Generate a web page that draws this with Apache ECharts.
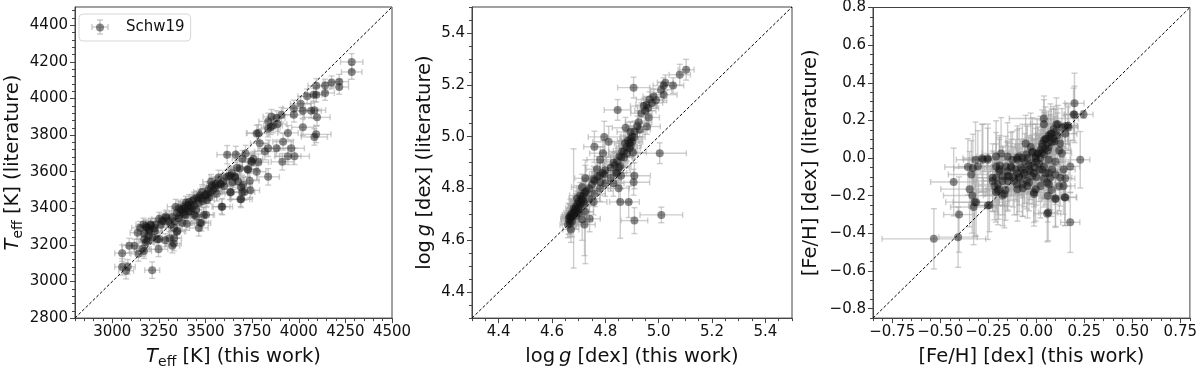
<!DOCTYPE html>
<html>
<head>
<meta charset="utf-8">
<title>Schw19 comparison</title>
<script src="https://cdn.jsdelivr.net/npm/echarts@6/dist/echarts.min.js"></script>
<style>
  html, body { margin: 0; padding: 0; background: #fff; }
  #chart { width: 1200px; height: 374px; }
</style>
</head>
<body>
<div id="chart"></div>
<script>
// axis ranges and ticks
const teffRange = [2800, 4500];
const loggRange = [4.3, 5.5];
const fehRange = [-0.85, 0.8];
const teffTicksX = [3000, 3250, 3500, 3750, 4000, 4250, 4500];
const teffTicksY = [2800, 3000, 3200, 3400, 3600, 3800, 4000, 4200, 4400];
const loggTicks = [4.4, 4.6, 4.8, 5.0, 5.2, 5.4];
const fehTicksX = [-0.75, -0.5, -0.25, 0, 0.25, 0.5, 0.75];
const fehTicksY = [-0.8, -0.6, -0.4, -0.2, 0, 0.2, 0.4, 0.6, 0.8];

// [this work, literature, err this work, err literature]
const teffPts = [
  [4284,4200,60,45],[4284,4145,55,40],[4217,4092,50,40],[4217,4063,50,40],[4176,4088,45,35],[4141,4071,45,35],
  [4141,4030,50,40],[4094,4069,45,40],[4094,4021,50,40],[4080,4021,45,35],[4045,4012,50,40],[4084,3936,60,45],
  [4098,3897,70,45],[4066,3933,55,40],[4022,3933,50,40],[4010,3971,55,40],[3974,3946,60,45],[3974,3911,55,40],
  [4022,3843,60,45],[4093,3804,80,45],[4084,3790,70,45],[3942,3812,55,40],[3907,3911,50,40],[3916,3764,55,45],
  [3960,3728,70,45],[3977,3684,80,45],[3942,3684,70,45],[3912,3654,60,45],[3886,3861,50,40],[3881,3893,45,40],
  [3854,3900,45,40],[3836,3875,50,45],[3850,3843,50,40],[3836,3835,55,45],[3862,3852,50,40],[3783,3812,60,45],
  [3774,3809,55,45],[3791,3755,50,40],[3818,3710,55,45],[3836,3728,55,45],[3881,3728,60,45],[3757,3671,50,40],
  [3783,3652,55,45],[3836,3572,60,45],[3748,3652,50,40],[3698,3671,55,45],[3684,3618,50,40],[3726,3613,45,40],
  [3774,3600,50,45],[3641,3591,50,40],[3616,3693,55,50],[3624,3577,45,40],[3659,3568,50,40],[3691,3515,50,40],
  [3709,3489,55,45],[3691,3449,60,45],[3633,3489,50,40],[3583,3533,45,40],[3590,3409,55,45],[3503,3471,45,40],
  [3517,3506,45,40],[3552,3533,45,40],[3570,3568,50,40],[3535,3524,45,40],[3482,3489,45,40],[3464,3453,45,40],
  [3438,3449,45,40],[3411,3435,45,40],[3384,3409,45,40],[3358,3400,40,40],[3340,3409,45,40],[3393,3364,40,35],
  [3420,3382,45,40],[3450,3355,45,40],[3491,3364,50,40],[3478,3320,50,45],[3464,3293,50,45],[3376,3320,45,40],
  [3349,3276,45,40],[3335,3329,40,35],[3313,3311,40,35],[3287,3355,40,35],[3252,3343,40,35],[3273,3329,40,35],
  [3207,3307,40,35],[3184,3297,40,35],[3198,3276,40,35],[3172,3261,40,35],[3149,3293,45,35],[3136,3267,40,35],
  [3172,3231,40,35],[3181,3214,40,35],[3163,3178,45,40],[3119,3196,40,35],[3091,3196,40,40],[3140,3151,40,40],
  [3053,3155,40,45],[3053,3080,40,45],[3083,3080,40,40],[3074,3059,40,45],[3214,3062,40,45],[3248,3176,50,40],
  [3240,3231,40,35],[3284,3226,40,35],[3322,3196,40,40],[3331,3237,40,35],[3229,3276,40,35],[3170,3166,40,40],
  [3188,3223,40,35],[3200,3285,40,35],[3191,3294,40,35],[3179,3303,40,35],[3206,3311,40,35],[3167,3311,40,35],
  [3232,3311,40,35],[3250,3232,40,35],[3308,3237,40,35],[3330,3208,40,40],[3347,3272,40,35],[3267,3333,40,35],
  [3290,3347,40,35],[3321,3351,40,35],[3347,3374,40,35],[3368,3391,40,35],[3391,3400,40,35],[3404,3418,40,35],
  [3409,3383,40,35],[3386,3368,40,35],[3427,3400,40,35],[3450,3391,40,35],[3439,3365,40,35],[3462,3427,40,35],
  [3480,3454,40,35],[3498,3471,40,35],[3507,3445,40,35],[3528,3489,40,35],[3551,3511,40,35],[3560,3525,40,35],
  [3577,3534,45,40],[3595,3546,45,40],[3613,3569,45,40],[3634,3578,45,40],[3657,3574,45,40],[3645,3542,45,40],
  [3675,3546,45,40],[3701,3528,50,40],[3737,3551,50,40],[3740,3498,50,40],[3698,3489,50,40],[3687,3450,50,40],
  [3634,3486,45,40],[3586,3409,45,40],[3503,3365,45,40],[3471,3320,45,40],[3400,3315,40,35],[3330,3294,40,35],
  [3662,3694,50,45],[3715,3699,50,45],[3746,3658,50,45],[3728,3610,50,40],[3669,3622,50,40],[3420,3420,40,35],
  [3430,3440,40,35],[3455,3460,40,35],[3470,3470,40,35],[3515,3480,40,35],[3540,3500,45,35],[3395,3430,40,35],
  [3375,3395,40,35],[3360,3360,40,35],[3300,3330,40,35],[3260,3310,40,35],[3225,3290,40,35],[3530,3545,45,40],
  [3600,3520,45,40],[3560,3480,45,40],[3410,3405,40,35],[3440,3415,40,35],[3485,3440,40,35],[3520,3460,40,35],
  [3380,3380,40,35],[3355,3345,40,35],[3195,3250,40,35],[3215,3240,40,35]
];

const loggPts = [
  [5.103,5.258,0.03,0.04],[5.079,5.239,0.04,0.04],[5.054,5.197,0.04,0.03],[5.025,5.208,0.03,0.03],
  [5.019,5.197,0.04,0.03],[5.019,5.162,0.05,0.03],[5.009,5.181,0.04,0.03],[4.981,5.155,0.04,0.03],
  [4.966,5.143,0.05,0.03],[4.954,5.122,0.04,0.03],[4.944,5.118,0.05,0.03],[4.975,5.13,0.04,0.03],
  [4.99,5.14,0.04,0.03],[4.906,5.189,0.06,0.04],[4.846,5.103,0.05,0.04],[4.963,5.074,0.04,0.03],
  [4.956,5.039,0.05,0.03],[4.925,5.055,0.05,0.04],[4.929,5.027,0.04,0.03],[4.894,5.018,0.05,0.04],
  [4.9,4.98,0.04,0.03],[4.891,4.955,0.04,0.03],[4.904,4.939,0.05,0.04],[4.909,4.999,0.04,0.03],
  [4.876,5.034,0.05,0.04],[4.874,4.974,0.04,0.03],[4.863,4.943,0.05,0.04],[4.881,4.936,0.04,0.03],
  [4.853,4.924,0.05,0.04],[4.856,4.886,0.04,0.04],[4.844,4.861,0.05,0.05],[4.859,4.849,0.04,0.05],
  [4.831,4.899,0.05,0.04],[4.8125,4.98,0.06,0.06],[4.796,4.999,0.06,0.06],[4.791,4.936,0.05,0.05],
  [4.759,4.961,0.04,0.06],[4.781,4.911,0.05,0.05],[4.769,4.874,0.04,0.05],[4.796,4.855,0.04,0.05],
  [4.781,4.824,0.04,0.05],[4.756,4.836,0.04,0.05],[4.725,4.839,0.04,0.05],[4.713,4.805,0.04,0.05],
  [4.725,4.786,0.03,0.05],[4.706,4.773,0.04,0.05],[4.694,4.761,0.03,0.05],[4.681,4.723,0.03,0.23],
  [4.669,4.698,0.03,0.06],[4.6625,4.683,0.03,0.06],[4.675,4.673,0.03,0.06],[4.66,4.66,0.03,0.05],
  [4.671,4.642,0.03,0.05],[4.713,4.68,0.04,0.08],[4.741,4.683,0.04,0.05],[4.722,4.661,0.04,0.12],
  [4.725,4.71,0.03,0.2],[4.756,4.748,0.05,0.05],[4.85,4.801,0.04,0.05],[4.856,4.748,0.04,0.14],
  [4.8875,4.748,0.04,0.06],[4.909,4.849,0.06,0.05],[4.906,4.824,0.06,0.05],[4.909,4.676,0.05,0.05],
  [5.004,4.936,0.1,0.04],[5.01,4.698,0.08,0.03],[4.67,4.69,0.03,0.05],[4.68,4.70,0.03,0.05],
  [4.685,4.715,0.03,0.05],[4.69,4.73,0.03,0.05],[4.695,4.74,0.03,0.05],[4.70,4.75,0.03,0.05],
  [4.71,4.76,0.03,0.05],[4.715,4.77,0.03,0.05],[4.72,4.78,0.03,0.05],[4.73,4.79,0.03,0.05],
  [4.74,4.80,0.04,0.05],[4.75,4.815,0.04,0.05],[4.76,4.83,0.04,0.05],[4.77,4.845,0.04,0.05],
  [4.78,4.85,0.04,0.05],[4.79,4.86,0.04,0.05],[4.80,4.87,0.04,0.05],[4.82,4.88,0.04,0.05],
  [4.835,4.89,0.04,0.05],[4.845,4.905,0.04,0.05],[4.86,4.92,0.04,0.05],[4.87,4.945,0.04,0.04],
  [4.88,4.96,0.04,0.04],[4.89,4.975,0.04,0.04],[4.895,4.99,0.04,0.04],[4.90,5.0,0.04,0.04],
  [4.91,5.02,0.04,0.04],[4.92,5.04,0.04,0.04],[4.665,4.69,0.03,0.05],[4.675,4.705,0.03,0.05],
  [4.7,4.72,0.03,0.05],[4.72,4.74,0.04,0.05],[4.74,4.76,0.04,0.05],[4.76,4.78,0.04,0.05],
  [4.78,4.80,0.04,0.05],[4.80,4.82,0.04,0.05],[4.82,4.84,0.04,0.05],[4.84,4.86,0.04,0.05],
  [4.83,4.82,0.04,0.05],[4.665,4.675,0.03,0.05],[4.668,4.665,0.03,0.05],[4.672,4.685,0.03,0.05],
  [4.678,4.695,0.03,0.05],[4.683,4.705,0.03,0.05],[4.688,4.72,0.03,0.05],[4.692,4.71,0.03,0.05],
  [4.698,4.725,0.03,0.05],[4.704,4.735,0.03,0.05],[4.708,4.745,0.03,0.05],[4.712,4.755,0.03,0.05],
  [4.718,4.75,0.03,0.05],[4.69,4.695,0.03,0.05],[4.7,4.705,0.03,0.05],[4.885,4.985,0.04,0.04],
  [4.895,4.965,0.04,0.04],[4.87,4.92,0.04,0.04],[4.85,4.88,0.04,0.05],[4.95,5.1,0.04,0.04],
  [4.96,5.11,0.04,0.03],[4.935,5.09,0.04,0.04]
];

const fehPts = [
  [0.199,0.291,0.05,0.16],[0.199,0.232,0.05,0.15],[0.246,0.232,0.05,0.02],[0.229,-0.009,0.05,0.15],
  [0.165,0.172,0.05,0.1],[0.134,0.163,0.06,0.1],[0.151,0.129,0.06,0.1],[0.125,0.077,0.05,0.1],
  [0.134,0.025,0.05,0.12],[0.143,-0.061,0.06,0.12],[0.151,-0.109,0.05,0.1],[0.113,0.18,0.06,0.1],
  [0.091,0.154,0.06,0.12],[0.074,0.111,0.06,0.12],[0.082,0.085,0.05,0.12],[0.057,0.077,0.06,0.13],
  [0.04,0.094,0.07,0.15],[0.031,0.06,0.07,0.14],[0.01,0.025,0.07,0.14],[-0.003,0.008,0.08,0.15],
  [-0.021,-0.027,0.08,0.15],[-0.072,-0.061,0.08,0.15],[-0.107,-0.061,0.08,0.16],[-0.141,-0.096,0.08,0.16],
  [-0.149,-0.122,0.08,0.16],[-0.175,-0.096,0.08,0.16],[-0.192,-0.061,0.08,0.16],[-0.196,-0.165,0.08,0.16],
  [-0.175,-0.199,0.1,0.16],[-0.227,-0.104,0.1,0.18],[-0.253,-0.001,0.08,0.16],[-0.282,-0.001,0.1,0.18],
  [-0.316,-0.009,0.1,0.2],[-0.33,-0.053,0.1,0.18],[-0.338,-0.087,0.12,0.18],[-0.347,-0.165,0.15,0.2],
  [-0.333,-0.199,0.15,0.2],[-0.321,-0.234,0.15,0.18],[-0.326,-0.26,0.12,0.2],[-0.356,-0.047,0.12,0.15],
  [-0.43,-0.127,0.12,0.18],[-0.244,-0.251,0.08,0.14],[-0.402,-0.3,0.08,0.2],[-0.407,-0.42,0.1,0.16],
  [-0.533,-0.429,0.27,0.16],[0.062,-0.289,0.05,0.15],[0.177,-0.341,0.05,0.16],[0.148,-0.208,0.06,0.15],
  [0.1,-0.213,0.07,0.15],[0.065,-0.079,0.07,0.15],[0.057,-0.13,0.07,0.15],[-0.038,-0.13,0.08,0.15],
  [-0.012,-0.182,0.08,0.16],[-0.055,0.077,0.1,0.15],[-0.089,0.008,0.09,0.15],[-0.124,-0.009,0.09,0.15],
  [-0.158,-0.044,0.1,0.16],[-0.227,-0.122,0.1,0.16],[-0.021,-0.096,0.08,0.15],[0.082,-0.061,0.07,0.14],
  [0.065,-0.009,0.07,0.14],[0.0,-0.02,0.08,0.15],[0.02,0.0,0.07,0.15],[0.03,0.03,0.07,0.14],
  [0.045,0.05,0.07,0.14],[0.05,0.1,0.07,0.14],[0.065,0.12,0.07,0.13],[0.08,0.13,0.06,0.13],
  [0.1,0.14,0.06,0.12],[0.11,0.12,0.06,0.12],[0.095,0.09,0.07,0.13],[0.06,0.04,0.07,0.14],
  [0.04,0.02,0.07,0.14],[0.015,-0.03,0.08,0.15],[-0.01,-0.05,0.08,0.15],[-0.04,-0.04,0.08,0.15],
  [-0.06,-0.02,0.09,0.15],[-0.08,-0.05,0.09,0.15],[-0.1,-0.08,0.09,0.15],[-0.12,-0.1,0.09,0.16],
  [-0.13,-0.05,0.09,0.15],[-0.15,-0.07,0.09,0.16],[-0.09,-0.1,0.09,0.15],[-0.06,-0.09,0.08,0.15],
  [-0.03,-0.07,0.08,0.15],[0.0,-0.1,0.08,0.15],[0.03,-0.06,0.08,0.15],[0.04,-0.11,0.08,0.15],
  [-0.05,-0.12,0.08,0.15],[-0.1,-0.14,0.09,0.16],[-0.2,-0.14,0.1,0.16],[-0.21,-0.18,0.1,0.16],
  [-0.16,-0.17,0.1,0.16],[0.1,-0.02,0.07,0.14],[0.12,0.04,0.06,0.13],[0.12,-0.15,0.06,0.13],
  [0.08,-0.17,0.07,0.14],[0.06,-0.2,0.07,0.14],[-0.07,-0.16,0.08,0.15],[-0.02,0.03,0.08,0.15],
  [-0.1,0.0,0.09,0.15],[-0.19,-0.04,0.1,0.16],[-0.05,0.02,0.09,0.15],[0.04,0.21,0.18,0.1],
  [0.04,0.18,0.07,0.15],[0.105,0.18,0.06,0.14],[0.152,0.171,0.06,0.12],[0.194,0.232,0.05,0.14],
  [0.168,0.163,0.05,0.12],[0.074,0.128,0.07,0.16],[0.048,0.102,0.07,0.17],[0.031,0.076,0.07,0.18],
  [0.091,0.102,0.06,0.16],[0.065,0.059,0.07,0.17],[0.022,0.042,0.08,0.18],[0.005,0.025,0.08,0.18],
  [-0.02,0.034,0.08,0.18],[-0.029,0.059,0.08,0.18],[-0.003,0.0,0.08,0.18],[-0.046,0.0,0.09,0.18],
  [-0.072,0.0,0.09,0.18],[-0.098,-0.009,0.09,0.18],[-0.132,-0.044,0.1,0.18],[-0.149,0.008,0.1,0.18],
  [-0.183,0.025,0.1,0.19],[-0.209,0.008,0.1,0.19],[-0.252,-0.009,0.1,0.19],[-0.278,-0.009,0.1,0.19],
  [-0.304,-0.044,0.1,0.19],[-0.209,-0.044,0.1,0.18],[-0.192,-0.07,0.1,0.18],[-0.149,-0.096,0.1,0.18],
  [-0.175,-0.122,0.1,0.18],[-0.209,-0.105,0.1,0.18],[-0.218,-0.148,0.1,0.18],[-0.2,-0.174,0.1,0.18],
  [-0.166,-0.191,0.1,0.18],[-0.115,-0.122,0.09,0.18],[-0.089,-0.105,0.09,0.18],[-0.063,-0.079,0.09,0.18],
  [-0.037,-0.061,0.09,0.18],[-0.012,-0.079,0.08,0.18],[0.014,-0.061,0.08,0.17],[0.04,-0.044,0.08,0.17],
  [0.048,-0.079,0.08,0.17],[0.074,-0.105,0.07,0.17],[0.065,-0.139,0.07,0.17],[0.022,-0.148,0.08,0.17],
  [-0.003,-0.165,0.08,0.17],[-0.012,-0.191,0.08,0.17],[-0.046,-0.148,0.09,0.17],[-0.072,-0.139,0.09,0.17],
  [-0.098,-0.165,0.09,0.17],[0.1,-0.087,0.07,0.16],[0.125,-0.105,0.06,0.15],[0.142,-0.148,0.06,0.15],
  [0.151,-0.209,0.06,0.15],[0.1,-0.218,0.07,0.15],[0.057,-0.295,0.07,0.15],[0.177,-0.044,0.05,0.14],
  [-0.313,-0.235,0.12,0.18],[-0.252,-0.252,0.1,0.18]
];

const FONT = 'DejaVu Sans';
const INK = '#111';
const FRAME = '#444';
const ERR_COLOR = 'rgba(165,165,165,0.55)';
const DOT_COLOR = 'rgba(20,20,20,0.62)';

// minor tick positions between range ends
function minorTicks(range, step) {
  const out = [];
  const start = Math.ceil(range[0] / step - 1e-9);
  for (let k = start; k * step <= range[1] + 1e-9; k++) {
    out.push(+(k * step).toFixed(4));
  }
  return out;
}

const nameStyle = {
  fontFamily: FONT,
  fontSize: 19.5,
  color: INK,
  lineHeight: 24,
  rich: {
    i: { fontFamily: FONT, fontSize: 19.5, fontStyle: 'italic', color: INK, lineHeight: 24 },
    s: { fontFamily: FONT, fontSize: 14, color: INK, lineHeight: 14, verticalAlign: 'bottom' }
  }
};

function makeAxes(dim, gridIndex, range, ticks, minors, fmt, name, nameGap) {
  const pos = dim === 'x' ? 'bottom' : 'left';
  const main = {
    type: 'value', gridIndex: gridIndex, min: range[0], max: range[1], position: pos,
    axisLine: { show: true, onZero: false, lineStyle: { color: FRAME, width: 1 } },
    axisTick: { show: true, customValues: ticks, length: 5, lineStyle: { color: FRAME } },
    axisLabel: { customValues: ticks, formatter: fmt, fontFamily: FONT, fontSize: 15, color: INK, margin: 7 },
    splitLine: { show: false },
    name: name, nameLocation: 'middle', nameGap: nameGap, nameTextStyle: nameStyle
  };
  const minor = {
    type: 'value', gridIndex: gridIndex, min: range[0], max: range[1], position: pos,
    axisLine: { show: false, onZero: false },
    axisTick: { show: true, customValues: minors, length: 3, lineStyle: { color: FRAME } },
    axisLabel: { show: false },
    splitLine: { show: false }
  };
  return [main, minor];
}

const minus = s => s.replace('-', '\u2212');
const fmtInt = v => String(Math.round(v));
const fmt1 = v => minus(v.toFixed(1));
const fmt2 = v => minus(v.toFixed(2));

const xAxes = [].concat(
  makeAxes('x', 0, teffRange, teffTicksX, minorTicks(teffRange, 50), fmtInt, '{i|T}{s|eff} [K] (this work)', 19),
  makeAxes('x', 1, loggRange, loggTicks, minorTicks(loggRange, 0.05), fmt1, 'log\u2009{i|g} [dex] (this work)', 19),
  makeAxes('x', 2, fehRange, fehTicksX, minorTicks(fehRange, 0.05), fmt2, '[Fe/H] [dex] (this work)', 19)
);
const yAxes = [].concat(
  makeAxes('y', 0, teffRange, teffTicksY, minorTicks(teffRange, 40), fmtInt, '{i|T}{s|eff} [K] (literature)', 50),
  makeAxes('y', 1, loggRange, loggTicks, minorTicks(loggRange, 0.05), fmt1, 'log\u2009{i|g} [dex] (literature)', 35),
  makeAxes('y', 2, fehRange, fehTicksY, minorTicks(fehRange, 0.05), fmt1, '[Fe/H] [dex] (literature)', 50)
);

function renderErr(params, api) {
  const x = api.value(0), y = api.value(1), xe = api.value(2), ye = api.value(3);
  const l = api.coord([x - xe, y]), r = api.coord([x + xe, y]);
  const t = api.coord([x, y + ye]), b = api.coord([x, y - ye]);
  const c = 3;
  const st = { stroke: ERR_COLOR, lineWidth: 1.4 };
  const ln = (x1, y1, x2, y2) => ({ type: 'line', shape: { x1: x1, y1: y1, x2: x2, y2: y2 }, style: st });
  return {
    type: 'group',
    children: [
      ln(l[0], l[1], r[0], r[1]),
      ln(t[0], t[1], b[0], b[1]),
      ln(l[0], l[1] - c, l[0], l[1] + c),
      ln(r[0], r[1] - c, r[0], r[1] + c),
      ln(t[0] - c, t[1], t[0] + c, t[1]),
      ln(b[0] - c, b[1], b[0] + c, b[1])
    ]
  };
}

const panels = [
  { pts: teffPts, range: teffRange },
  { pts: loggPts, range: loggRange },
  { pts: fehPts, range: fehRange }
];

const series = [];
panels.forEach((p, i) => {
  const ax = i * 2;
  series.push({
    type: 'custom', name: 'err' + i, xAxisIndex: ax, yAxisIndex: ax,
    renderItem: renderErr, data: p.pts, encode: { x: 0, y: 1 }, z: 1, silent: true
  });
  series.push({
    type: 'line', name: 'diag' + i, xAxisIndex: ax, yAxisIndex: ax,
    data: [[p.range[0], p.range[0]], [p.range[1], p.range[1]]],
    symbol: 'none', lineStyle: { color: '#000', width: 1, type: [3, 2] }, z: 2, silent: true
  });
  series.push({
    type: 'scatter', name: 'Schw19', xAxisIndex: ax, yAxisIndex: ax,
    data: p.pts.map(d => [d[0], d[1]]), symbolSize: 8,
    itemStyle: { color: DOT_COLOR }, z: 3
  });
});

const chart = echarts.init(document.getElementById('chart'));
chart.setOption({
  animation: false,
  backgroundColor: '#fff',
  grid: [
    { left: 72, top: 7, width: 320, height: 319, show: true, borderColor: FRAME, borderWidth: 1 },
    { left: 472, top: 7, width: 320, height: 319, show: true, borderColor: FRAME, borderWidth: 1 },
    { left: 873, top: 7, width: 319, height: 318, show: true, borderColor: FRAME, borderWidth: 1 }
  ],
  xAxis: xAxes,
  yAxis: yAxes,
  legend: {
    data: [{ name: 'Schw19', icon: 'circle' }],
    left: 79, top: 14,
    padding: [6, 6, 6, 17],
    itemWidth: 8, itemHeight: 8,
    borderColor: '#d6d6d6', borderWidth: 1, borderRadius: 4,
    textStyle: { fontFamily: FONT, fontSize: 15, color: INK, padding: [0, 0, 0, 17] }
  },
  graphic: [
    { type: 'line', shape: { x1: 92, y1: 27, x2: 108, y2: 27 }, style: { stroke: '#c8c8c8', lineWidth: 1.4 }, z: 0 },
    { type: 'line', shape: { x1: 100, y1: 20, x2: 100, y2: 34 }, style: { stroke: '#c8c8c8', lineWidth: 1.4 }, z: 0 },
    { type: 'line', shape: { x1: 92, y1: 24, x2: 92, y2: 30 }, style: { stroke: '#c8c8c8', lineWidth: 1.4 }, z: 0 },
    { type: 'line', shape: { x1: 108, y1: 24, x2: 108, y2: 30 }, style: { stroke: '#c8c8c8', lineWidth: 1.4 }, z: 0 },
    { type: 'line', shape: { x1: 97, y1: 20, x2: 103, y2: 20 }, style: { stroke: '#c8c8c8', lineWidth: 1.4 }, z: 0 },
    { type: 'line', shape: { x1: 97, y1: 34, x2: 103, y2: 34 }, style: { stroke: '#c8c8c8', lineWidth: 1.4 }, z: 0 }
  ],
  series: series
});
</script>
</body>
</html>
